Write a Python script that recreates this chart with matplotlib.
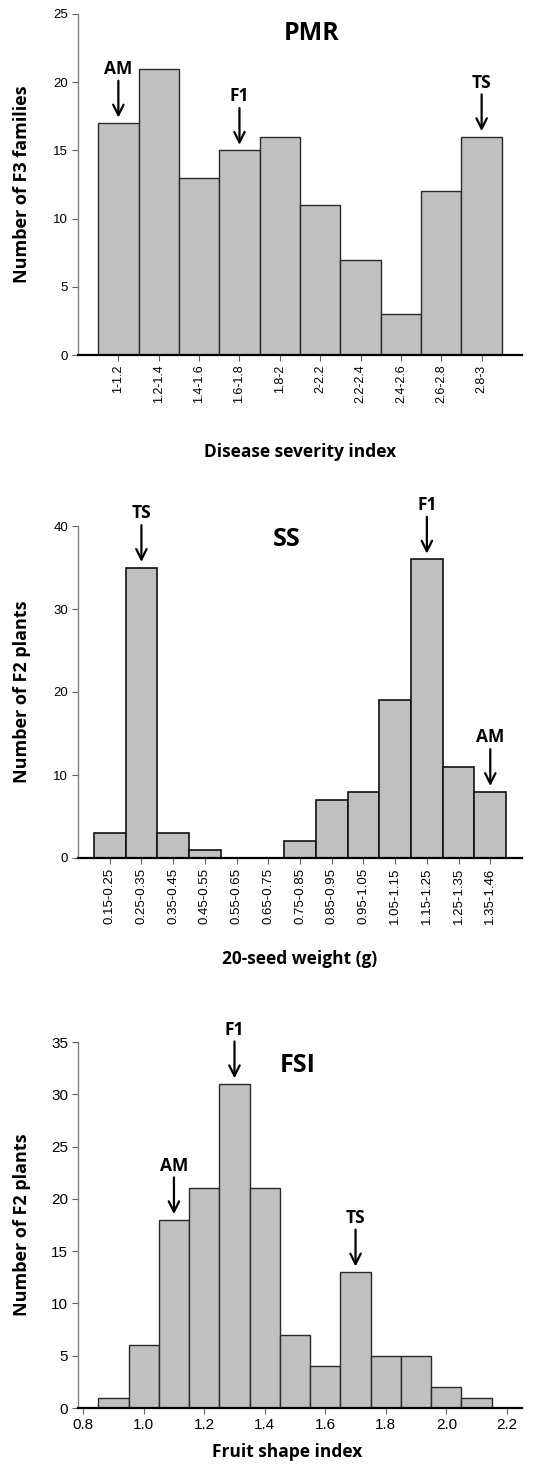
import numpy as np
import matplotlib
matplotlib.use("Agg")
import matplotlib.pyplot as plt

# PMR - disease severity index
pmr_bins = ["1-1.2", "1.2-1.4", "1.4-1.6", "1.6-1.8", "1.8-2", "2-2.2",
            "2.2-2.4", "2.4-2.6", "2.6-2.8", "2.8-3"]
pmr_counts = [17, 21, 13, 15, 16, 11, 7, 3, 12, 16]
pmr_marks = {"AM": 0, "F1": 3, "TS": 9}

# SS - 20-seed weight
ss_bins = ["0.15-0.25", "0.25-0.35", "0.35-0.45", "0.45-0.55", "0.55-0.65",
           "0.65-0.75", "0.75-0.85", "0.85-0.95", "0.95-1.05", "1.05-1.15",
           "1.15-1.25", "1.25-1.35", "1.35-1.46"]
ss_counts = [3, 35, 3, 1, 0, 0, 2, 7, 8, 19, 36, 11, 8]
ss_marks = {"TS": 1, "F1": 10, "AM": 12}

# FSI - fruit shape index
fsi_centers = [0.9, 1.0, 1.1, 1.2, 1.3, 1.4, 1.5, 1.6, 1.7, 1.8, 1.9, 2.0, 2.1]
fsi_counts = [1, 6, 18, 21, 31, 21, 7, 4, 13, 5, 5, 2, 1]
fsi_marks = {"AM": 2, "F1": 4, "TS": 8}

bar_fill = "#c0c0c0"
bar_edge = "#2a2a2a"
lab_font = ["Open Sans", "DejaVu Sans"]
tick_font = ["Liberation Sans", "DejaVu Sans"]

fig = plt.figure(figsize=(5.4, 14.73), dpi=100)
W = 540
H = 1473


def make_axes(left, top, right, bottom):
    return fig.add_axes([left / W, 1 - bottom / H, (right - left) / W, (bottom - top) / H])


def style(ax):
    for s in ["top", "right"]:
        ax.spines[s].set_visible(False)
    ax.spines["left"].set_color("#808080")
    ax.spines["left"].set_linewidth(1.0)
    ax.spines["bottom"].set_color("black")
    ax.spines["bottom"].set_linewidth(1.6)
    ax.tick_params(axis="y", direction="out", length=4, width=0.8, color="#606060", pad=3)
    ax.tick_params(axis="x", direction="out", length=4, width=0.8, color="#606060", pad=3)


def mark(ax, label, x, v):
    ax.annotate(label, xy=(x, v), xycoords="data",
                xytext=(0, 39), textcoords="offset points",
                ha="center", va="center", fontsize=12.5, fontweight="bold",
                family=lab_font,
                arrowprops=dict(arrowstyle="->,head_length=0.6,head_width=0.3",
                                color="black", lw=1.6, shrinkA=0, shrinkB=4))


def labels(ax, ylab, xlab, xlab_y, xlab_x=0.5):
    ax.set_ylabel(ylab, fontsize=13, fontweight="bold", family=lab_font)
    ax.yaxis.set_label_coords(-0.126, 0.5)
    ax.yaxis.label.set_va("center")
    ax.set_xlabel(xlab, fontsize=12.5, fontweight="bold", family=lab_font)
    ax.xaxis.set_label_coords(xlab_x, xlab_y)
    ax.xaxis.label.set_va("center")


# ---------- PMR ----------
ax1 = make_axes(78, 14, 522, 355)
x1 = np.arange(len(pmr_counts))
ax1.bar(x1, pmr_counts, width=1.0, color=bar_fill, edgecolor=bar_edge, linewidth=1.0)
ax1.set_xlim(-1, 10)
ax1.set_ylim(0, 25)
ax1.set_yticks([0, 5, 10, 15, 20, 25])
ax1.set_xticks(x1)
ax1.set_xticklabels(pmr_bins, rotation=90, fontsize=9, family=tick_font)
for t in ax1.get_yticklabels():
    t.set_fontsize(9.5)
    t.set_family(tick_font)
style(ax1)
ax1.text(0.527, 0.944, "PMR", transform=ax1.transAxes, ha="center", va="center",
         fontsize=18, fontweight="bold", family=lab_font)
for k, i in pmr_marks.items():
    mark(ax1, k, x1[i], pmr_counts[i])
labels(ax1, "Number of F3 families", "Disease severity index", -0.284)

# ---------- SS ----------
ax2 = make_axes(78, 526, 522, 858)
x2 = np.arange(len(ss_counts))
ax2.bar(x2, ss_counts, width=1.0, color=bar_fill, edgecolor="#111111", linewidth=1.2)
ax2.set_xlim(-1, 13)
ax2.set_ylim(0, 40)
ax2.set_yticks([0, 10, 20, 30, 40])
ax2.set_xticks(x2)
ax2.set_xticklabels(ss_bins, rotation=90, fontsize=9.5, family=tick_font)
for t in ax2.get_yticklabels():
    t.set_fontsize(9.5)
    t.set_family(tick_font)
style(ax2)
ax2.text(0.471, 0.958, "SS", transform=ax2.transAxes, ha="center", va="center",
         fontsize=18, fontweight="bold", family=lab_font)
for k, i in ss_marks.items():
    mark(ax2, k, x2[i], ss_counts[i])
labels(ax2, "Number of F2 plants", "20-seed weight (g)", -0.304)

# ---------- FSI ----------
ax3 = make_axes(78, 1042, 522, 1408)
ax3.bar(fsi_centers, fsi_counts, width=0.1, color=bar_fill, edgecolor=bar_edge, linewidth=1.0)
ax3.set_xlim(0.783, 2.25)
ax3.set_ylim(0, 35)
ax3.set_yticks([0, 5, 10, 15, 20, 25, 30, 35])
ax3.set_xticks([0.8, 1.0, 1.2, 1.4, 1.6, 1.8, 2.0, 2.2])
ax3.set_xticklabels(["0.8", "1.0", "1.2", "1.4", "1.6", "1.8", "2.0", "2.2"],
                    fontsize=11, family=tick_font)
for t in ax3.get_yticklabels():
    t.set_fontsize(11)
    t.set_family(tick_font)
style(ax3)
ax3.text(0.495, 0.937, "FSI", transform=ax3.transAxes, ha="center", va="center",
         fontsize=18, fontweight="bold", family=lab_font)
for k, i in fsi_marks.items():
    mark(ax3, k, fsi_centers[i], fsi_counts[i])
labels(ax3, "Number of F2 plants", "Fruit shape index", -0.12, 0.47)

fig.savefig("out.png", dpi=100)
